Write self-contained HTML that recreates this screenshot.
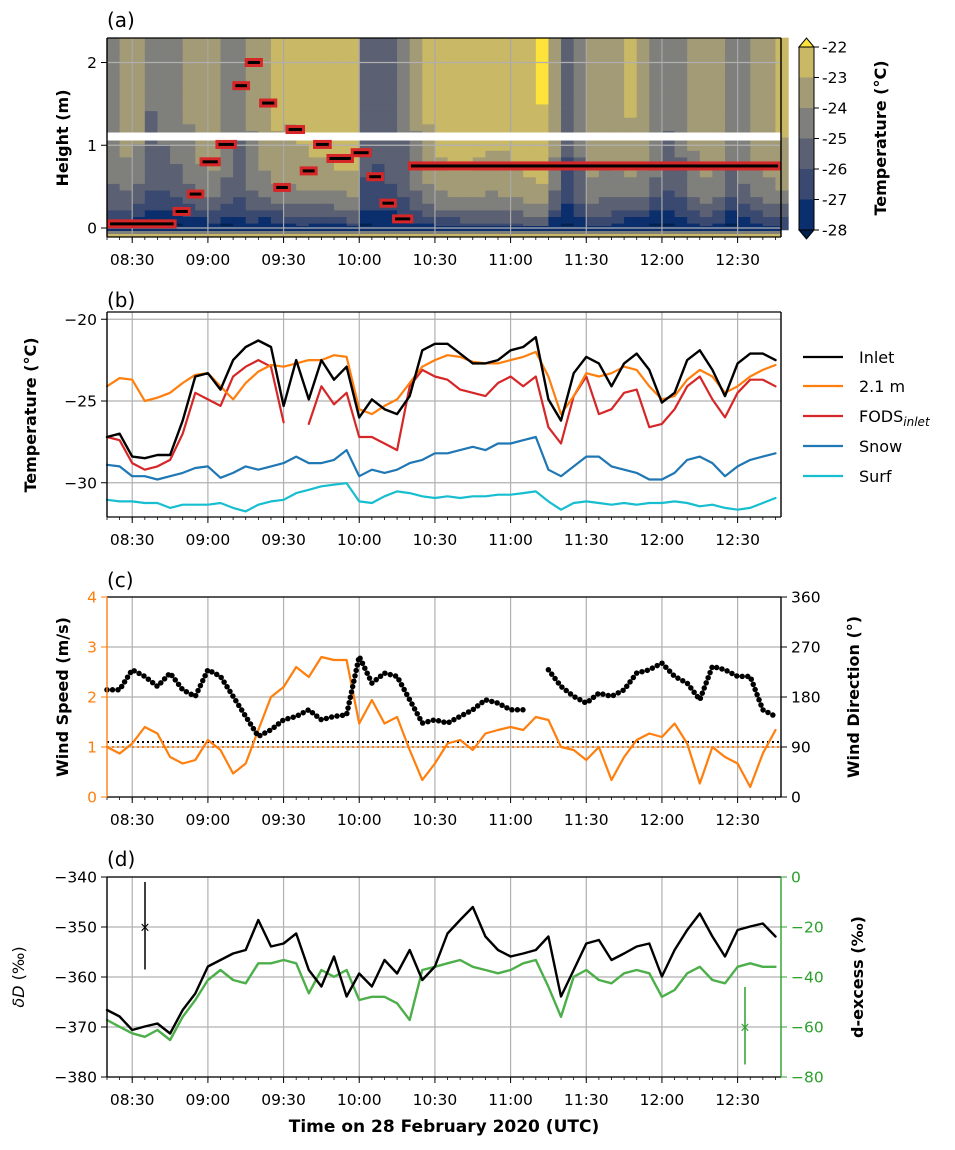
<!DOCTYPE html>
<html><head><meta charset="utf-8">
<style>
body{margin:0;background:#fff;}
svg text{font-family:"DejaVu Sans","Liberation Sans",sans-serif;}
</style></head>
<body>
<svg id="fig" width="955" height="1145" xmlns="http://www.w3.org/2000/svg">
<g id="gA"></g>
<g id="gB"></g>
<g id="gC"></g>
<g id="gD"></g>
<g id="gT"></g>
</svg>
<script>
const times=["08:20","08:25","08:30","08:35","08:40","08:45","08:50","08:55","09:00","09:05","09:10","09:15","09:20","09:25","09:30","09:35","09:40","09:45","09:50","09:55","10:00","10:05","10:10","10:15","10:20","10:25","10:30","10:35","10:40","10:45","10:50","10:55","11:00","11:05","11:10","11:15","11:20","11:25","11:30","11:35","11:40","11:45","11:50","11:55","12:00","12:05","12:10","12:15","12:20","12:25","12:30","12:35","12:40","12:45"];
const xTickLabels=["08:30","09:00","09:30","10:00","10:30","11:00","11:30","12:00","12:30"];
const inlet=[-27.2,-27.0,-28.4,-28.5,-28.3,-28.3,-26.2,-23.5,-23.3,-24.3,-22.5,-21.7,-21.3,-21.7,-25.3,-22.5,-24.9,-22.5,-23.7,-22.9,-26.0,-24.9,-25.5,-25.8,-24.7,-21.9,-21.5,-21.5,-22.1,-22.7,-22.7,-22.5,-21.9,-21.7,-21.1,-24.9,-26.2,-23.3,-22.3,-22.7,-24.1,-22.7,-22.1,-23.1,-25.1,-24.5,-22.5,-21.9,-23.1,-24.7,-22.7,-22.1,-22.1,-22.5];
const t21=[-24.1,-23.6,-23.7,-25.0,-24.8,-24.5,-23.9,-23.4,-23.3,-24.1,-24.9,-23.9,-23.2,-22.8,-22.9,-22.7,-22.5,-22.5,-22.2,-22.3,-25.5,-25.8,-25.3,-24.9,-23.9,-22.9,-22.5,-22.2,-22.3,-22.6,-22.7,-22.7,-22.5,-22.3,-22.0,-23.5,-25.8,-24.7,-23.3,-23.5,-23.3,-22.9,-23.1,-24.1,-24.9,-24.7,-23.7,-23.1,-23.5,-24.5,-24.1,-23.5,-23.1,-22.8];
const fods=[-27.2,-27.4,-28.8,-29.2,-29.0,-28.6,-27.0,-24.5,-24.9,-25.3,-23.5,-22.9,-22.5,-22.9,-26.3,null,-26.4,-24.1,-25.2,-24.5,-27.2,-27.2,-27.6,-28.0,-24.1,-23.1,-23.5,-23.7,-24.3,-24.5,-24.7,-23.9,-23.5,-24.1,-23.5,-26.6,-27.6,-24.7,-23.5,-25.8,-25.5,-24.5,-24.3,-26.6,-26.4,-25.5,-24.1,-23.5,-24.9,-26.0,-24.5,-23.7,-23.7,-24.1];
const snow=[-28.9,-29.0,-29.6,-29.6,-29.8,-29.6,-29.4,-29.1,-29.0,-29.7,-29.4,-29.0,-29.2,-29.0,-28.8,-28.4,-28.8,-28.8,-28.6,-28.0,-29.6,-29.2,-29.4,-29.2,-28.8,-28.6,-28.2,-28.2,-28.0,-27.8,-28.0,-27.6,-27.6,-27.4,-27.2,-29.2,-29.6,-29.0,-28.4,-28.4,-29.0,-29.2,-29.4,-29.8,-29.8,-29.4,-28.6,-28.4,-28.8,-29.6,-29.0,-28.6,-28.4,-28.2];
const surf=[-31.04,-31.14,-31.14,-31.24,-31.24,-31.54,-31.34,-31.34,-31.34,-31.24,-31.54,-31.75,-31.34,-31.14,-31.04,-30.63,-30.43,-30.22,-30.12,-30.02,-31.14,-31.24,-30.83,-30.53,-30.63,-30.83,-30.93,-30.83,-30.93,-30.83,-30.83,-30.73,-30.73,-30.63,-30.53,-31.14,-31.65,-31.24,-31.14,-31.24,-31.34,-31.24,-31.34,-31.24,-31.24,-31.14,-31.24,-31.44,-31.34,-31.54,-31.65,-31.54,-31.24,-30.93];
const windSpeed=[1.0,0.87,1.07,1.4,1.27,0.8,0.67,0.74,1.14,0.94,0.47,0.67,1.34,2.0,2.2,2.6,2.4,2.8,2.74,2.74,1.47,1.94,1.47,1.6,0.94,0.34,0.67,1.07,1.14,0.94,1.27,1.34,1.4,1.34,1.6,1.54,1.0,0.94,0.74,1.0,0.34,0.8,1.14,1.27,1.2,1.47,1.07,0.27,1.0,0.8,0.67,0.2,0.87,1.34];
const windDir=[193,193,229,217,199,223,193,181,229,217,181,145,109,121,139,145,157,139,145,148,253,205,223,217,175,133,139,133,145,157,175,169,157,157,null,229,199,181,169,187,181,193,223,229,241,217,205,175,235,229,217,217,157,145];
const dD=[-366.6,-367.9,-370.6,-369.9,-369.3,-371.3,-366.6,-363.3,-357.9,-356.6,-355.3,-354.6,-348.6,-353.9,-353.3,-351.3,-358.6,-361.9,-355.9,-363.9,-359.3,-361.9,-356.6,-359.3,-354.6,-360.6,-357.9,-351.3,-348.6,-346.0,-351.9,-354.6,-355.9,-355.3,-354.6,-351.9,-363.9,-358.6,-353.3,-352.6,-356.6,-355.3,-353.9,-353.3,-359.9,-354.6,-350.6,-347.3,-351.9,-355.9,-350.6,-349.9,-349.3,-351.9];
const dex=[-57.2,-59.9,-62.5,-63.9,-61.2,-65.2,-55.9,-49.2,-41.2,-37.2,-41.2,-42.5,-34.5,-34.5,-33.2,-34.5,-46.5,-37.2,-39.9,-37.2,-49.2,-47.9,-47.9,-50.5,-57.2,-37.2,-35.9,-34.5,-33.2,-35.9,-37.2,-38.5,-37.2,-34.5,-33.2,-43.9,-55.9,-39.9,-37.2,-41.2,-42.5,-38.5,-37.2,-38.5,-47.9,-45.2,-38.5,-35.9,-41.2,-42.5,-35.9,-34.5,-35.9,-35.9];
const boxStart=["08:20","08:46","08:51.6","08:56.7","09:03","09:09.7","09:14.6","09:20.3","09:25.9","09:30.8","09:36.4","09:41.7","09:47","09:56.6","10:02.8","10:08","10:13","10:19.3"];
const boxEnd=["08:47.6","08:53.2","08:58.6","09:05.1","09:11.5","09:16.7","09:21.8","09:27.5","09:32.9","09:38.5","09:43.5","09:49.1","09:57.9","10:04.9","10:09.8","10:14.9","10:21.4","12:47.2"];
const boxHeight=[0.05,0.2,0.41,0.80,1.01,1.72,2.0,1.51,0.49,1.19,0.69,1.01,0.84,0.91,0.62,0.30,0.11,0.75];
const cbLevels=[-22,-23,-24,-25,-26,-27,-28];
const cbColors=["#c9b865","#a39a76","#7f7f7c","#5b6172","#3a4970","#0b2e6c"];

const NS="http://www.w3.org/2000/svg";
function mins(s){const p=s.split(":");return (+p[0])*60+parseFloat(p[1]);}
const X0=107,X1=781,T0=mins("08:20"),T1=mins("12:47.2");
function xs(s){return X0+(mins(s)-T0)*(X1-X0)/(T1-T0);}
function el(par,tag,at,txt){const e=document.createElementNS(NS,tag);for(const k in at)e.setAttribute(k,at[k]);if(txt!==undefined)e.textContent=txt;par.appendChild(e);return e;}
const yA=h=>228-h*82.75, yB=t=>401-(t+25)*16.35, yCs=w=>797-w*50, yCd=d=>797-d*200/360, yDd=v=>877-(v+340)*5, yDx=v=>877-v*2.5;
function tcol(T){if(T>-22)return "#fde33a";if(T<=-28)return "#00204d";const i=Math.min(5,Math.floor(-22-T));return cbColors[i];}

function xgrid(g,top,bot,labelY,gc){
  for(let m=T0;m<=T1;m+=5){const x=X0+(m-T0)*(X1-X0)/(T1-T0);const ln=el(g,"line",{x1:x,x2:x,y1:bot,y2:bot+3,stroke:"#000","stroke-width":0.8});
    
    }
  xTickLabels.forEach(s=>{const x=xs(s);
    const gl=el(g,"line",{x1:x,x2:x,y1:top,y2:bot,stroke:gc||"#b0b0b0","stroke-width":1.2});
    
    
    el(g,"line",{x1:x,x2:x,y1:bot,y2:bot+6,stroke:"#000","stroke-width":1});
    const t=el(g,"text",{x:x,y:labelY,"text-anchor":"middle","font-size":15.5},s);
    
    });
}
function ygrid(g,vals,fy,labels,side,color,grid){
  vals.forEach((v,i)=>{const y=fy(v);
    if(grid){const gl=el(g,"line",{x1:X0,x2:X1,y1:y,y2:y,stroke:"#b0b0b0","stroke-width":1.2});
      
      }
    if(side==="l"){el(g,"line",{x1:X0-6,x2:X0,y1:y,y2:y,stroke:color,"stroke-width":1});
      const t=el(g,"text",{x:X0-10,y:y+5.5,"text-anchor":"end","font-size":15.5,fill:color},labels[i]);
      
      }
    else{el(g,"line",{x1:X1,x2:X1+6,y1:y,y2:y,stroke:color,"stroke-width":1});
      const t=el(g,"text",{x:X1+10,y:y+5.5,"text-anchor":"start","font-size":15.5,fill:color},labels[i]);
      
      }
  });
}
function line(g,vals,fy,color,w,name,dash){
  let d="",pen=false;
  vals.forEach((v,i)=>{if(v===null){pen=false;return;}const x=xs(times[i]),y=fy(v);d+=(pen?"L":"M")+x.toFixed(1)+","+y.toFixed(1);pen=true;});
  const p=el(g,"path",{d:d,fill:"none",stroke:color,"stroke-width":w,"stroke-linejoin":"round","stroke-linecap":"round"});
  if(dash)p.setAttribute("stroke-dasharray",dash);
  
  
  return p;
}
function frame(g,top,bot,lc,rc){
  el(g,"line",{x1:X0,x2:X1,y1:top,y2:top,stroke:"#000","stroke-width":1.2});
  el(g,"line",{x1:X0,x2:X1,y1:bot,y2:bot,stroke:"#000","stroke-width":1.2});
  el(g,"line",{x1:X0,x2:X0,y1:top,y2:bot,stroke:lc||"#000","stroke-width":1.4});
  el(g,"line",{x1:X1,x2:X1,y1:top,y2:bot,stroke:rc||"#000","stroke-width":1.4});
}

/* Panel A heatmap */
const gA=document.getElementById("gA");
const hBins=[];for(let h=-0.02;h<2.3;h+=0.08)hBins.push(h);
times.forEach((s,i)=>{
  const x=xs(s),w=(X1-X0)/(T1-T0)*5+0.6;
  const amb=t21[i]+0.1;
  hBins.forEach(h=>{
    const T=amb+(snow[i]+1.5-amb)*Math.exp(-Math.max(h,0)/0.4);
    const r=el(gA,"rect",{x:x,y:yA(h+0.08),width:w,height:0.08*82.75+0.6,fill:tcol(T)});
    
    
  });
});
el(gA,"rect",{x:X0,y:226,width:X1-X0,height:5,fill:"#0b2e6c"});
el(gA,"rect",{x:X0,y:231,width:X1-X0,height:3,fill:"#7f7f7c"});
el(gA,"rect",{x:X0,y:234,width:X1-X0,height:3,fill:"#c9b865"});
xgrid(gA,38,237,265,"#a8a8a8");
ygrid(gA,[0,1,2],yA,["0","1","2"],"l","#000",true);
const wb=el(gA,"rect",{x:X0,y:132.5,width:X1-X0,height:8,fill:"#fff"});


boxHeight.forEach((h,i)=>{
  const x1=xs(boxStart[i]),x2=xs(boxEnd[i]),y=yA(h);
  const r=el(gA,"rect",{x:x1,y:y-4.5,width:x2-x1,height:9,fill:"#d62728"});
  
  
  el(gA,"rect",{x:x1+3,y:y-1.5,width:x2-x1-6,height:3,fill:"#000"});
});
frame(gA,38,237);
cbColors.forEach((c,i)=>{const r=el(gA,"rect",{x:799,y:47+i*30.5,width:15,height:30.6,fill:c});
  
  });
el(gA,"polygon",{points:"799,47 814,47 806.5,38",fill:"#fde33a",stroke:"#000","stroke-width":1});
el(gA,"polygon",{points:"799,230 814,230 806.5,239",fill:"#00204d",stroke:"#000","stroke-width":1});
el(gA,"rect",{x:799,y:47,width:15,height:183,fill:"none",stroke:"#000","stroke-width":1});
cbLevels.forEach((v,i)=>{const y=47+i*30.5;el(gA,"line",{x1:814,x2:819,y1:y,y2:y,stroke:"#000"});
  const t=el(gA,"text",{x:822,y:y+5.5,"font-size":15.5},String(v));
  
  });

/* Panel B */
const gB=document.getElementById("gB");
xgrid(gB,312,517,545);
ygrid(gB,[-20,-25,-30],yB,["\u221220","\u221225","\u221230"],"l","#000",true);
line(gB,surf,yB,"#17becf",2.2,"surf-line");
line(gB,snow,yB,"#1f77b4",2.2,"snow-line");
line(gB,fods,yB,"#d62728",2.2,"fods-line");
line(gB,t21,yB,"#ff7f0e",2.2,"2m-line");
line(gB,inlet,yB,"#000",2.4,"inlet-line");
frame(gB,312,517);
const leg=[["Inlet","#000",357],["2.1 m","#ff7f0e",386],["FODS","#d62728",416],["Snow","#1f77b4",446],["Surf","#17becf",476]];
leg.forEach(l=>{const g=el(gB,"g",{});
  
  
  el(g,"line",{x1:803,x2:843,y1:l[2],y2:l[2],stroke:l[1],"stroke-width":2.2});
  const t=el(g,"text",{x:859,y:l[2]+6,"font-size":16},l[0]);
  if(l[0]==="FODS"){el(t,"tspan",{"font-size":12,"font-style":"italic",dy:4},"inlet");}
});

/* Panel C */
const gC=document.getElementById("gC");
xgrid(gC,597,797,825);
ygrid(gC,[0,1,2,3,4],yCs,["0","1","2","3","4"],"l","#ff7f0e",true);
ygrid(gC,[0,90,180,270,360],yCd,["0","90","180","270","360"],"r","#000",false);
const th1=el(gC,"line",{x1:X0,x2:X1,y1:yCs(1.0),y2:yCs(1.0),stroke:"#ff7f0e","stroke-width":2,"stroke-dasharray":"2 3"});


const th2=el(gC,"line",{x1:X0,x2:X1,y1:yCs(1.1),y2:yCs(1.1),stroke:"#000","stroke-width":2,"stroke-dasharray":"2 3"});


line(gC,windSpeed,yCs,"#ff7f0e",2.2,"wind-speed-line");
line(gC,windDir,yCd,"#000",5.5,"wind-direction-dots","0 5.5");
frame(gC,597,797,"#ff7f0e","#000");

/* Panel D */
const gD=document.getElementById("gD");
xgrid(gD,877,1077,1105);
ygrid(gD,[-340,-350,-360,-370,-380],yDd,["\u2212340","\u2212350","\u2212360","\u2212370","\u2212380"],"l","#000",true);
ygrid(gD,[0,-20,-40,-60,-80],yDx,["0","\u221220","\u221240","\u221260","\u221280"],"r","#2ca02c",false);
line(gD,dex,yDx,"#4daf4a",2.4,"d-excess-line");
line(gD,dD,yDd,"#000",2.4,"dD-line");
const eb1=el(gD,"g",{});
el(eb1,"line",{x1:145,x2:145,y1:yDd(-341),y2:yDd(-358.5),stroke:"#000","stroke-width":1.5});
el(eb1,"text",{x:145,y:yDd(-350)+4.5,"text-anchor":"middle","font-size":13},"\u00d7");
const eb2=el(gD,"g",{});
el(eb2,"line",{x1:745,x2:745,y1:yDx(-44),y2:yDx(-75),stroke:"#2ca02c","stroke-width":1.5});
el(eb2,"text",{x:745,y:yDx(-60)+4.5,"text-anchor":"middle","font-size":13,fill:"#2ca02c"},"\u00d7");
frame(gD,877,1077,"#000","#2ca02c");

/* Labels */
const gT=document.getElementById("gT");
function lab(name,x,y,txt,opt){const a=Object.assign({x:x,y:y,"font-size":16,"font-weight":"bold","text-anchor":"middle"},opt||{});
  const t=el(gT,"text",a,txt);return t;}
lab("panel-a-label",107,27,"(a)",{"font-weight":"normal","font-size":20,"text-anchor":"start"});
lab("panel-b-label",107,307,"(b)",{"font-weight":"normal","font-size":20,"text-anchor":"start"});
lab("panel-c-label",107,587,"(c)",{"font-weight":"normal","font-size":20,"text-anchor":"start"});
lab("panel-d-label",107,866,"(d)",{"font-weight":"normal","font-size":20,"text-anchor":"start"});
lab("height-axis-title",0,0,"Height (m)",{transform:"translate(68,138) rotate(-90)"});
lab("colorbar-title",0,0,"Temperature (\u00b0C)",{transform:"translate(886,138) rotate(-90)"});
lab("temperature-axis-title",0,0,"Temperature (\u00b0C)",{transform:"translate(36,415) rotate(-90)"});
lab("wind-speed-axis-title",0,0,"Wind Speed (m/s)",{transform:"translate(68,697) rotate(-90)"});
lab("wind-direction-axis-title",0,0,"Wind Direction (\u00b0)",{transform:"translate(859,697) rotate(-90)"});
const dl=lab("dD-axis-title",0,0,"",{transform:"translate(24,977) rotate(-90)","font-weight":"normal"});
el(dl,"tspan",{"font-style":"italic"},"\u03b4D");el(dl,"tspan",{}," (\u2030)");
lab("d-excess-axis-title",0,0,"d-excess (\u2030)",{transform:"translate(863,977) rotate(-90)"});
lab("x-axis-title",444,1132,"Time on 28 February 2020 (UTC)",{"font-size":17});
</script>
</body></html>
